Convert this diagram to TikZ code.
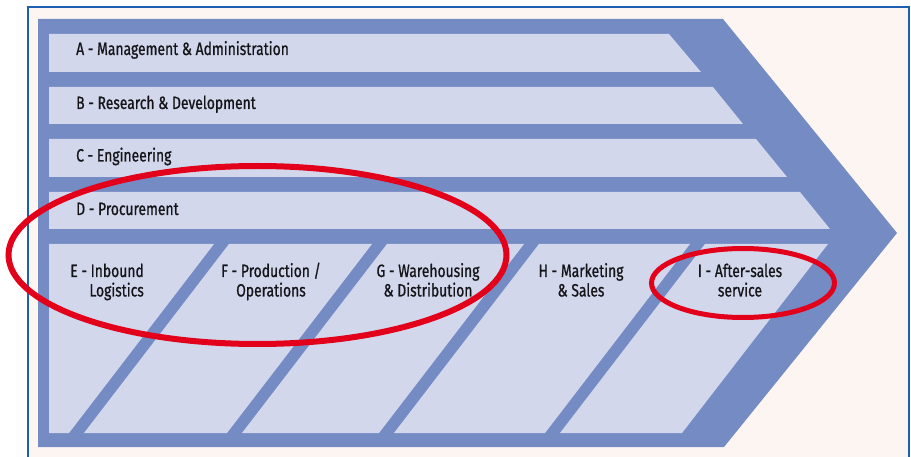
\documentclass[tikz,border=0pt]{standalone}
\usepackage{fontspec}
\setmainfont{Fira Sans}[FakeStretch=0.78, FakeBold=0.8]
\definecolor{chevblue}{RGB}{117,139,196}
\definecolor{cellblue}{RGB}{210,215,236}
\definecolor{bgpink}{RGB}{253,245,242}
\definecolor{frameblue}{RGB}{30,95,180}
\definecolor{ringred}{RGB}{226,0,26}
\definecolor{textdark}{RGB}{20,20,25}
\begin{document}
\begin{tikzpicture}[x=1pt,y=-1pt,
  darkblue/.style={fill=chevblue},
  lightcell/.style={fill=cellblue},
  lbl/.style={font=\fontsize{17.8}{19.5}\selectfont, inner sep=0pt, text=textdark},
  ring/.style={draw=ringred}]
\useasboundingbox (0,0) rectangle (911,457);
\fill[white] (0,0) rectangle (911,457);
\fill[bgpink] (28,7) rectangle (909,470);
\draw[frameblue, line width=1.5pt] (28,470) -- (28,7) -- (909,7) -- (909,470);
% chevron
\path[darkblue] (38,19) -- (723,19) -- (897,233) -- (724,447) -- (38,447) -- cycle;
% support activity bars
\path[lightcell] (49,34) -- (669,34) -- (701,72) -- (49,72) -- cycle;
\path[lightcell] (49,87) -- (713,87) -- (743,124) -- (49,124) -- cycle;
\path[lightcell] (49,139) -- (756,139) -- (787,177) -- (49,177) -- cycle;
\path[lightcell] (49,192) -- (800,192) -- (830,229) -- (49,229) -- cycle;
% primary activity cells
\path[lightcell] (49,244) -- (214,244) -- (69,433) -- (49,433) -- cycle;
\path[lightcell] (229,244) -- (372,244) -- (227,433) -- (84,433) -- cycle;
\path[lightcell] (387,244) -- (524,244) -- (379,433) -- (242,433) -- cycle;
\path[lightcell] (539,244) -- (690,244) -- (545,433) -- (394,433) -- cycle;
\path[lightcell] (705,244) -- (828,244) -- (682,433) -- (560,433) -- cycle;
% labels
\node[lbl, anchor=base west] (A) at (76,55) {A - Management \& Administration};
\node[lbl, anchor=base west] (B) at (76,109) {B - Research \& Development};
\node[lbl, anchor=base west] (C) at (76,161.5) {C - Engineering};
\node[lbl, anchor=base west] (D) at (76,215) {D - Procurement};
\node[lbl, align=right, anchor=base east] (E) at (144,296.5) {E - Inbound\\Logistics};
\node[lbl, align=center, anchor=base] (F) at (271,296.5) {F - Production /\\Operations};
\node[lbl, align=center, anchor=base] (G) at (428,296.5) {G - Warehousing\\\& Distribution};
\node[lbl, align=center, anchor=base] (H) at (581,296.5) {H - Marketing\\\& Sales};
\node[lbl, align=center, anchor=base] (I) at (740,296.5) {I - After-sales\\service};
% highlight rings
\draw[ring, line width=6pt] (257.5,255) ellipse [x radius=249, y radius=89];
\draw[ring, line width=5pt] (743,283) ellipse [x radius=91.5, y radius=34.5];
\end{tikzpicture}
\end{document}
